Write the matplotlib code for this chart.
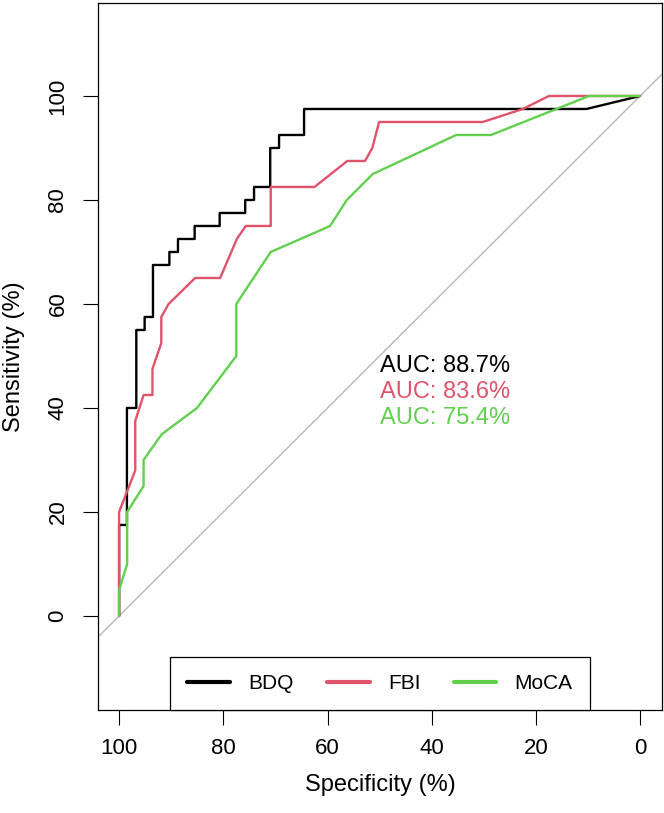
import matplotlib
matplotlib.use("Agg")
import matplotlib.pyplot as plt

plt.rcParams['font.family'] = ['Liberation Sans', 'DejaVu Sans']

# ---- data (specificity %, sensitivity %) ----
bdq_spec = [100, 100, 98.5, 98.5, 96.7, 96.7, 95.1, 95.1, 93.5, 93.5, 90.35, 90.35,
            88.7, 88.7, 85.5, 85.5, 80.7, 80.7, 75.8, 75.8, 74.1, 74.1, 71.0, 71.0,
            69.3, 69.3, 64.5, 64.5, 10.3, 0]
bdq_sens = [0, 17.5, 17.5, 40, 40, 55, 55, 57.5, 57.5, 67.5, 67.5, 70,
            70, 72.5, 72.5, 75, 75, 77.5, 77.5, 80, 80, 82.5, 82.5, 90,
            90, 92.5, 92.5, 97.5, 97.5, 100]

fbi_spec = [100, 100, 100, 96.9, 96.9, 95.3, 93.6, 93.6, 91.9, 91.9, 90.5, 85.4,
            80.6, 77.4, 75.7, 70.9, 70.9, 62.5, 56.2, 52.8, 51.4, 50.1, 30.2, 22.5,
            17.5, 0]
fbi_sens = [0, 5, 20, 28, 37.5, 42.5, 42.5, 47.5, 52.5, 57.5, 60, 65,
            65, 72.5, 75, 75, 82.5, 82.5, 87.5, 87.5, 90, 95, 95, 97.5,
            100, 100]

moca_spec = [100, 100, 98.45, 98.45, 95.3, 95.3, 92.5, 91.75, 85.05, 77.5, 77.5, 70.9,
             59.5, 56.3, 51.3, 35.3, 28.6, 9.8, 0]
moca_sens = [0, 5, 10, 20, 25, 30, 34, 35, 40, 50, 60, 70,
             75, 80, 85, 92.5, 92.5, 100, 100]

names = ["BDQ", "FBI", "MoCA"]
aucs = ["88.7%", "83.6%", "75.4%"]
colors = ["#000000", "#DF536B", "#61D04F"]
auc_y = [48, 43, 38]
ticks = [100, 80, 60, 40, 20, 0]

# ---- figure ----
W, H = 664, 813
fig = plt.figure(figsize=(W / 100, H / 100), dpi=100)
ax_l, ax_r, ax_t, ax_b = 98, 662, 3, 710
ax = fig.add_axes([ax_l / W, (H - ax_b) / H, (ax_r - ax_l) / W, (ax_b - ax_t) / H])

ax.set_xlim(104.05, -4.2)
ax.set_ylim(-18.08, 117.88)

# diagonal reference
ax.axline((100, 0), (0, 100), color="#b8b8b8", lw=1.0, zorder=1)

series = [(bdq_spec, bdq_sens), (fbi_spec, fbi_sens), (moca_spec, moca_sens)]
for (sx, sy), name, c in zip(series, names, colors):
    ax.plot(sx, sy, color=c, lw=1.7, label=name, solid_joinstyle='round',
            solid_capstyle='round', zorder=2)

for name, a, c, y in zip(names, aucs, colors, auc_y):
    ax.text(50, y, f"AUC: {a}", color=c, fontsize=17, ha='left', va='center')

ax.set_xticks(ticks)
ax.set_yticks(ticks)
ax.set_xticklabels([str(t) for t in ticks])
ax.set_yticklabels([str(t) for t in ticks])
ax.tick_params(axis='both', direction='out', length=10.8, width=0.8, color='black',
               labelsize=16)
ax.tick_params(axis='x', pad=9.5)
ax.tick_params(axis='y', pad=10.5, labelrotation=90)
for lab in ax.get_yticklabels():
    lab.set_va('center')

for s in ax.spines.values():
    s.set_linewidth(0.9)
    s.set_color('black')

ax.set_xlabel("Specificity (%)", fontsize=17, va='center')
ax.set_ylabel("Sensitivity (%)", fontsize=17, va='center')
ax.xaxis.set_label_coords(0.5, (ax_b - 785) / (ax_b - ax_t))
ax.yaxis.set_label_coords((14 - ax_l) / (ax_r - ax_l), 0.5)

leg = ax.legend(loc='lower center', bbox_to_anchor=(0.5, 0.0), ncol=3, fontsize=15,
                frameon=True, fancybox=False, edgecolor='black', borderaxespad=0,
                borderpad=0.82, handlelength=2.05, handletextpad=0.87,
                columnspacing=1.6)
leg.get_frame().set_linewidth(0.9)
leg.get_frame().set_alpha(1)
for ln in leg.get_lines():
    ln.set_linewidth(3.0)
    ln.set_solid_capstyle('round')

fig.savefig("out.png", dpi=100)
